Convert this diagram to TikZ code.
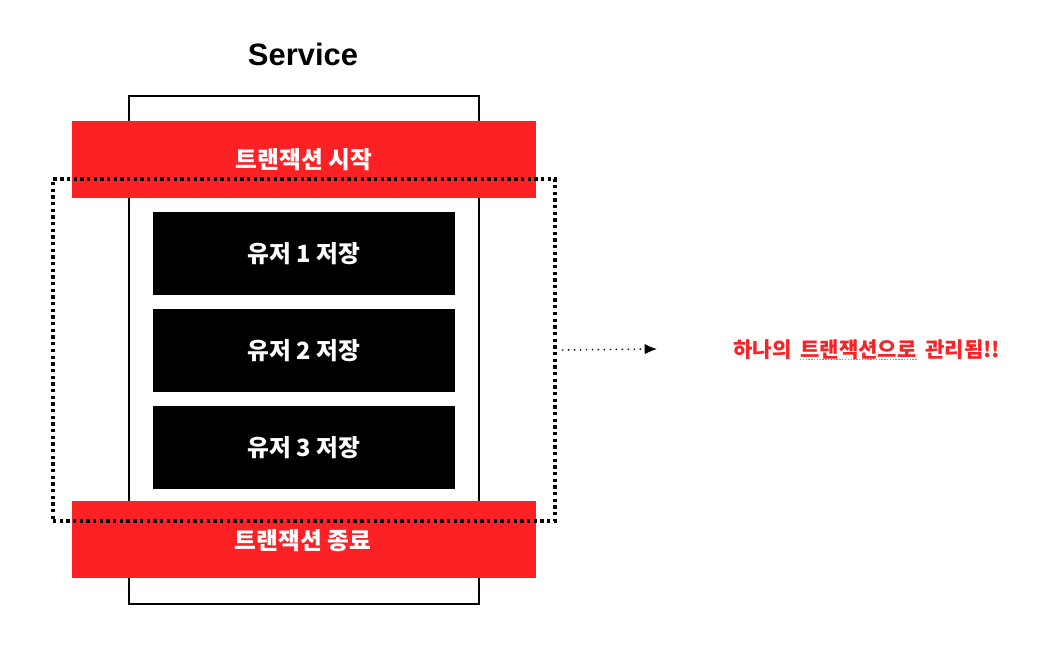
\documentclass[tikz,border=0pt]{standalone}
\usepackage{fontspec}
\setmainfont{Noto Sans CJK KR}
\newfontfamily\titlefont{Liberation Sans}
\usetikzlibrary{positioning,arrows.meta}
\definecolor{txred}{RGB}{252,33,37}
\begin{document}
\begin{tikzpicture}[
	x=0.02cm, y=-0.02cm,
	every node/.style={font=\bfseries\fontsize{13.5}{16}\selectfont},
	redbar/.style={fill=txred, minimum width=9.28cm, minimum height=1.54cm, text=white, inner sep=0pt},
	savebox/.style={fill=black, minimum width=6.04cm, minimum height=1.66cm, text=white, inner sep=0pt},
	msgtext/.style={text=txred, inner xsep=0pt, font=\bfseries\fontsize{12}{14}\selectfont},
	txscope/.style={line width=1.9pt, dash pattern=on 1.9pt off 1.9pt}]
   \useasboundingbox (0,0) rectangle (1047,648);
   \node (title) at (303,54) {\titlefont\fontsize{17.6}{20}\selectfont Service};
   \node (service)[draw, line width=1.3pt, minimum width=7cm, minimum height=10.16cm] at (304,350) {};
   \node (start)[redbar] at (304,159.5) {트랜잭션 시작};
   \node (end)[redbar] at (304,539.5) {};
   \node (endtext) at (303,541) [text=white] {트랜잭션 종료};
   \node (user1)[savebox] at (304,253.5) {유저 1 저장};
   \node (user2)[savebox, below=0.26cm of user1] {유저 2 저장};
   \node (user3)[savebox, below=0.28cm of user2] {유저 3 저장};
   \node (tx)[draw, txscope, minimum width=10.04cm, minimum height=6.84cm, inner sep=0pt] at (304,350) {};
   \coordinate (tip) at (657,349);
   \node (msg1)[msgtext, anchor=west] at (733,350) {하나의};
   \node (msg2)[msgtext, right=0.16cm of msg1] {트랜잭션으로};
   \node (msg3)[msgtext, right=0.16cm of msg2] {관리됨!!};
   % spell check line
   \draw[txred!70, line width=0.6pt, dash pattern=on 0.8pt off 0.8pt] ([yshift=-1pt]msg2.base west) -- ([yshift=-1pt]msg2.base east);
   \draw[line width=0.8pt, dash pattern=on 0.8pt off 2.6pt, -{Latex[length=7pt, width=6pt]}] ([xshift=3pt]tx.east) -- (tip);
\end{tikzpicture}
\end{document}
